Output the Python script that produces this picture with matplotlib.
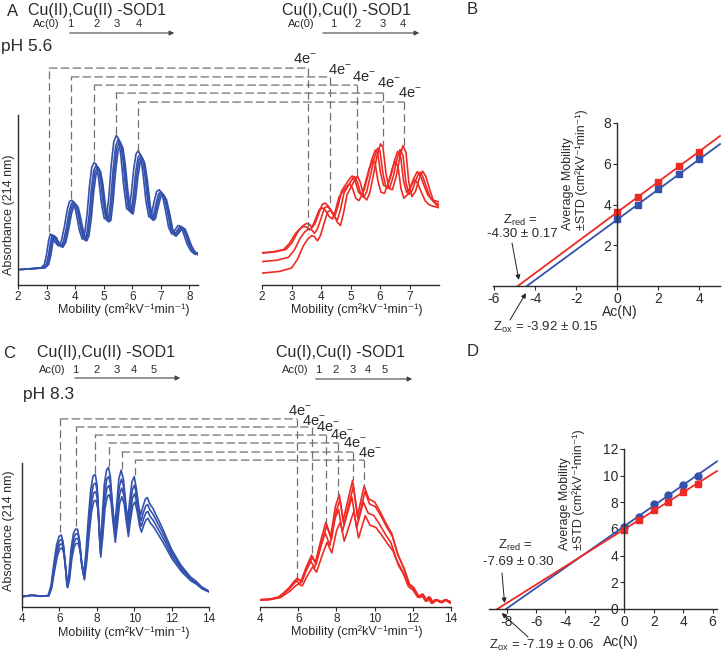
import numpy as np
import matplotlib.pyplot as plt
from matplotlib.patches import ConnectionPatch, FancyArrowPatch

plt.rcParams['font.family'] = ['Liberation Sans', 'DejaVu Sans']
plt.rcParams['mathtext.fontset'] = 'custom'
plt.rcParams['mathtext.rm'] = 'Liberation Sans'
plt.rcParams['mathtext.it'] = 'Liberation Sans:italic'
plt.rcParams['lines.scale_dashes'] = False
plt.rcParams['axes.unicode_minus'] = False

W, H = 722, 656
BLUE = '#3451ab'
RED = '#ee2a24'
DASH = '#707070'
INK = '#2a2a2a'
DASHES = (0, (5.5, 3))

# electropherogram knots, pH 5.6 (mobility, absorbance a.u.)
a_ox_x = [2.0, 2.4, 2.8, 2.92, 3.0, 3.07, 3.13, 3.2, 3.3, 3.42, 3.52, 3.62, 3.72, 3.8, 3.88, 3.96,
          4.05, 4.15, 4.25, 4.33, 4.42, 4.5, 4.58, 4.66, 4.74, 4.82, 4.92, 5.02, 5.1, 5.18, 5.26,
          5.35, 5.44, 5.52, 5.6, 5.7, 5.8, 5.88, 5.96, 6.05, 6.13, 6.21, 6.29, 6.38, 6.48, 6.58,
          6.66, 6.75, 6.85, 6.95, 7.05, 7.15, 7.27, 7.38, 7.48, 7.6, 7.7, 7.8, 7.92, 8.05, 8.2,
          8.3, 8.5]
a_ox_y = [0.09, 0.095, 0.10, 0.12, 0.18, 0.26, 0.30, 0.29, 0.25, 0.23, 0.26, 0.34, 0.44, 0.49, 0.50, 0.48,
          0.41, 0.32, 0.27, 0.30, 0.42, 0.58, 0.69, 0.72, 0.71, 0.63, 0.48, 0.39, 0.40, 0.52, 0.70,
          0.84, 0.88, 0.86, 0.76, 0.58, 0.45, 0.44, 0.53, 0.68, 0.77, 0.79, 0.76, 0.65, 0.49, 0.40,
          0.41, 0.48, 0.55, 0.56, 0.53, 0.45, 0.34, 0.30, 0.32, 0.35, 0.345, 0.30, 0.24, 0.20, 0.18,
          0.19, 0.19]
a_red_x = [1.6, 2.0, 2.6, 3.0, 3.2, 3.4, 3.55, 3.68, 3.78, 3.88, 3.98, 4.1, 4.22, 4.32, 4.42, 4.55,
           4.66, 4.76, 4.88, 5.0, 5.12, 5.24, 5.34, 5.45, 5.55, 5.65, 5.78, 5.9, 6.02, 6.1, 6.2,
           6.3, 6.42, 6.55, 6.68, 6.78, 6.88, 6.98, 7.08, 7.2, 7.32, 7.44, 7.55, 7.67, 7.8, 7.92,
           8.0, 8.3]
a_red_y = [0.07, 0.07, 0.08, 0.10, 0.15, 0.23, 0.27, 0.29, 0.285, 0.26, 0.29, 0.36, 0.43, 0.44, 0.42, 0.37,
           0.35, 0.42, 0.53, 0.57, 0.61, 0.64, 0.60, 0.52, 0.50, 0.54, 0.65, 0.76, 0.83, 0.81, 0.66,
           0.57, 0.56, 0.64, 0.76, 0.82, 0.78, 0.60, 0.52, 0.55, 0.62, 0.67, 0.64, 0.57, 0.50, 0.47,
           0.46, 0.44]

# electropherogram knots, pH 8.3
c_ox_x = [4.0, 4.5, 5.0, 5.4, 5.55, 5.7, 5.85, 5.98, 6.1, 6.2, 6.3, 6.4, 6.5, 6.62, 6.75, 6.85,
          6.97, 7.07, 7.17, 7.3, 7.42, 7.55, 7.68, 7.8, 7.92, 8.02, 8.1, 8.17, 8.28, 8.4, 8.52,
          8.62, 8.72, 8.82, 8.95, 9.07, 9.18, 9.3, 9.42, 9.55, 9.65, 9.76, 9.88, 10.0, 10.12,
          10.25, 10.35, 10.47, 10.6, 10.7, 10.82, 11.0, 11.5, 12.0, 12.5, 13.0, 13.3, 13.6, 14.0]
c_ox_y = [0.072, 0.083, 0.075, 0.08, 0.15, 0.30, 0.43, 0.49, 0.50, 0.45, 0.31, 0.15, 0.22, 0.40, 0.51, 0.54,
          0.54, 0.47, 0.33, 0.22, 0.38, 0.62, 0.82, 0.91, 0.92, 0.84, 0.62, 0.42, 0.60, 0.85, 0.95,
          0.97, 0.91, 0.74, 0.55, 0.72, 0.89, 0.95, 0.89, 0.72, 0.60, 0.74, 0.87, 0.905, 0.82,
          0.69, 0.64, 0.70, 0.75, 0.76, 0.72, 0.685, 0.55, 0.40, 0.29, 0.21, 0.18, 0.14, 0.11]
c_red_x = [4.0, 4.5, 5.0, 5.5, 5.8, 5.95, 6.15, 6.4, 6.7, 6.9, 7.2, 7.45, 7.7, 7.95, 8.15, 8.35, 8.6,
           8.85, 9.1, 9.45, 9.7, 10.0, 10.3, 10.6, 10.9, 11.2, 11.5, 11.8, 12.0, 12.3, 12.5, 12.7,
           12.85, 13.0, 13.2, 13.5, 13.7, 14.0]
c_red_y = [0.05, 0.053, 0.07, 0.13, 0.18, 0.20, 0.18, 0.27, 0.36, 0.31, 0.47, 0.59, 0.49, 0.70, 0.78, 0.60, 0.74,
           0.88, 0.63, 0.84, 0.75, 0.73, 0.66, 0.58, 0.51, 0.37, 0.28, 0.16, 0.14, 0.07, 0.09, 0.04,
           0.07, 0.025, 0.05, 0.03, 0.05, 0.025]

# replicate runs: (mobility shift, scale, offset)
a_ox_runs = [(0.0, 1.0, 0.0), (0.07, 0.97, 0.004), (0.11, 0.95, 0.006), (0.15, 0.93, 0.008)]
a_red_runs = [(0.0, 1.0, 0.0), (-0.1, 0.88, 0.075), (-0.18, 0.80, 0.13), (-0.27, 0.72, 0.136)]
c_ox_runs = [(0.0, 1.0, 0.0), (0.02, 0.93, 0.005), (0.03, 0.86, 0.01), (0.04, 0.79, 0.015)]
c_red_runs = [(0.0, 1.0, 0.0), (0.04, 0.95, 0.003), (-0.04, 0.86, 0.007), (0.06, 0.74, 0.013)]

# peak pairs linked by dashed lines (4e- shift)
a_ox_pk = [3.1, 3.86, 4.67, 5.43, 6.21]
a_ox_pk_h = [0.31, 0.51, 0.73, 0.89, 0.79]
a_red_pk = [3.57, 4.31, 5.22, 6.11, 6.83]
a_red_pk_h = [0.30, 0.46, 0.64, 0.82, 0.82]
c_ox_pk = [6.05, 6.9, 7.9, 8.65, 9.35, 10.05]
c_ox_pk_h = [0.52, 0.56, 0.93, 0.98, 0.96, 0.92]
c_red_pk = [5.92, 6.7, 7.46, 8.1, 8.85, 9.45]
c_red_pk_h = [0.20, 0.36, 0.59, 0.78, 0.88, 0.84]

# average mobility vs acetylation number
b_ac = [0, 1, 2, 3, 4]
b_red = [3.63, 4.36, 5.10, 5.90, 6.60]
b_red_sd = [0.09, 0.10, 0.10, 0.09, 0.08]
b_ox = [3.28, 3.97, 4.74, 5.50, 6.22]
b_ox_sd = [0.07, 0.06, 0.07, 0.05, 0.06]
d_ac = [0, 1, 2, 3, 4, 5]
d_red = [5.94, 6.70, 7.40, 8.05, 8.80, 9.40]
d_red_sd = [0.10, 0.10, 0.09, 0.10, 0.08, 0.09]
d_ox = [6.17, 6.90, 7.90, 8.57, 9.30, 10.00]
d_ox_sd = [0.08, 0.07, 0.08, 0.07, 0.08, 0.07]

fig = plt.figure(figsize=(W / 100, H / 100), dpi=100)


def px_axes(l, r, t, b):
    return fig.add_axes([l / W, 1 - b / H, (r - l) / W, (b - t) / H])


def ftext(x, y, s, **kw):
    fig.text(x / W, 1 - y / H, s, **kw)


def trace_axes(l, r, t, b, xlim, xticks, left):
    ax = px_axes(l, r, t, b)
    ax.set_xlim(*xlim)
    ax.set_ylim(0, 1)
    ax.set_xticks(xticks)
    ax.set_yticks([])
    for s in ['top', 'right']:
        ax.spines[s].set_visible(False)
    ax.spines['left'].set_visible(left)
    for s in ['left', 'bottom']:
        ax.spines[s].set_color(INK)
        ax.spines[s].set_linewidth(1.0)
    ax.tick_params(axis='x', length=3, width=0.8, pad=1.5, labelsize=8.5, colors=INK)
    ax.patch.set_alpha(0)
    return ax


def draw_runs(ax, x, y, runs, color):
    x = np.array(x)
    y = np.array(y)
    for dx, sc, dy in runs:
        ax.plot(x + dx, y * sc + dy, color=color, lw=1.2)


def link(ax_o, ax_r, xo, ho, xr, hr, levels):
    for a, ha, b, hb, lv in zip(xo, ho, xr, hr, levels):
        ax_o.plot([a, a], [ha, lv], color=DASH, lw=0.9, ls=DASHES, clip_on=False)
        ax_r.plot([b, b], [lv, hb], color=DASH, lw=0.9, ls=DASHES, clip_on=False)
        con = ConnectionPatch(xyA=(a, lv), coordsA=ax_o.transData, xyB=(b, lv),
                              coordsB=ax_r.transData, color=DASH, lw=0.9, ls=DASHES)
        fig.add_artist(con)


def header(title, tx, ty, labels, lx, ly, ax0, ax1, ay):
    ftext(tx, ty, title, fontsize=11.5, va='center', ha='left', color=INK)
    for s, x in zip(labels, lx):
        ftext(x, ly, s, fontsize=8, ha='center', va='center', color=INK)
    arr = FancyArrowPatch((ax0 / W, 1 - ay / H), (ax1 / W, 1 - ay / H), transform=fig.transFigure,
                          arrowstyle='-|>', mutation_scale=7, lw=0.8, color='#444444')
    fig.add_artist(arr)


# ---------------- top row (pH 5.6) ----------------
axA = trace_axes(18, 198, 115, 285, (2, 8.3), range(2, 9), True)
draw_runs(axA, a_ox_x, a_ox_y, a_ox_runs, BLUE)
axA2 = trace_axes(262, 439, 115, 285, (2, 8.0), range(2, 8), False)
draw_runs(axA2, a_red_x, a_red_y, a_red_runs, RED)
link(axA, axA2, a_ox_pk, a_ox_pk_h, a_red_pk, a_red_pk_h, [1.276, 1.224, 1.176, 1.129, 1.076])
for x, y in [(3.46, 1.33), (4.65, 1.265), (5.47, 1.224), (6.32, 1.188), (7.0, 1.129)]:
    axA2.text(x, y, '4e$^{-}$', fontsize=10.5, ha='center', va='center', color=INK, clip_on=False)

header('Cu(II),Cu(II) -SOD1', 28, 10, ['Ac(0)', '1', '2', '3', '4'], [46, 70, 97, 117, 139], 24, 67, 177, 33)
header('Cu(I),Cu(I) -SOD1', 282, 10, ['Ac(0)', '1', '2', '3', '4'], [301, 333, 358, 383, 403], 24, 320, 422, 33)
ftext(1, 47, 'pH 5.6', fontsize=12.5, va='center', color=INK)
ftext(7, 11, 'A', fontsize=12, va='center', color=INK)
ftext(124, 310, 'Mobility (cm²kV⁻¹min⁻¹)', fontsize=9, ha='center', va='center', color=INK)
ftext(357, 310, 'Mobility (cm²kV⁻¹min⁻¹)', fontsize=9, ha='center', va='center', color=INK)
ftext(9, 215, 'Absorbance (214 nm)', fontsize=9, ha='center', va='center', rotation=90, color=INK)

# ---------------- bottom row (pH 8.3) ----------------
axC = trace_axes(22, 209, 463, 607, (4, 14), range(4, 15, 2), True)
draw_runs(axC, c_ox_x, c_ox_y, c_ox_runs, BLUE)
axC2 = trace_axes(260, 451, 463, 607, (4, 14), range(4, 15, 2), False)
draw_runs(axC2, c_red_x, c_red_y, c_red_runs, RED)
link(axC, axC2, c_ox_pk, c_ox_pk_h, c_red_pk, c_red_pk_h, [1.306, 1.25, 1.194, 1.139, 1.076, 1.02])
for x, y in [(6.09, 1.36), (6.83, 1.29), (7.56, 1.25), (8.29, 1.194), (8.97, 1.139), (9.76, 1.07)]:
    axC2.text(x, y, '4e$^{-}$', fontsize=10.5, ha='center', va='center', color=INK, clip_on=False)

header('Cu(II),Cu(II) -SOD1', 37, 353, ['Ac(0)', '1', '2', '3', '4', '5'],
       [52, 75, 97, 117, 134, 154], 370, 72, 183, 378)
header('Cu(I),Cu(I) -SOD1', 276, 353, ['Ac(0)', '1', '2', '3', '4', '5'],
       [295, 318, 336, 353, 368, 385], 370, 313, 415, 379)
ftext(23, 395, 'pH 8.3', fontsize=12.5, va='center', color=INK)
ftext(3, 353, 'C', fontsize=12, va='center', color=INK)
ftext(124, 633, 'Mobility (cm²kV⁻¹min⁻¹)', fontsize=9, ha='center', va='center', color=INK)
ftext(357, 632, 'Mobility (cm²kV⁻¹min⁻¹)', fontsize=9, ha='center', va='center', color=INK)
ftext(9, 531, 'Absorbance (214 nm)', fontsize=9, ha='center', va='center', rotation=90, color=INK)


# ---------------- charge ladders ----------------
def ladder(l, r, t, b, xlim, ylim, xticks, yticks, sets):
    ax = px_axes(l, r, t, b)
    ax.set_xlim(*xlim)
    ax.set_ylim(*ylim)
    ax.spines['left'].set_position(('data', 0))
    for s in ['top', 'right']:
        ax.spines[s].set_visible(False)
    for s in ['left', 'bottom']:
        ax.spines[s].set_color(INK)
        ax.spines[s].set_linewidth(1.0)
    ax.set_xticks(xticks)
    ax.set_yticks(yticks)
    ax.tick_params(length=3, width=0.8, pad=1.5, labelsize=10, colors=INK)
    ax.patch.set_alpha(0)
    x0s = []
    for ac, mob, sd, color, mk, ms in sets:
        m, c = np.polyfit(ac, mob, 1)
        x0 = -c / m
        xs = np.array([x0, xlim[1]])
        ax.plot(xs, m * xs + c, color=color, lw=1.3, clip_on=False)
        ax.errorbar(ac, mob, yerr=sd, fmt=mk, ms=ms, color=color, ecolor=color,
                    elinewidth=0.8, capsize=2, capthick=0.8)
        x0s.append(x0)
    return ax, x0s


axB, (b_x0r, b_x0o) = ladder(493, 720, 123, 286, (-6.05, 5.0), (0, 8), [-6, -4, -2, 0, 2, 4], [2, 4, 6, 8],
                             [(b_ac, b_red, b_red_sd, RED, 's', 4.5), (b_ac, b_ox, b_ox_sd, BLUE, 's', 4.5)])
ftext(575, 230, 'Average Mobility\n±STD (cm²kV⁻¹min⁻¹)', fontsize=9, rotation=90,
      ha='center', va='bottom', multialignment='left', color=INK)
ftext(620, 312, 'Ac(N)', fontsize=10, ha='center', va='center', color=INK)
ftext(467, 10, 'B', fontsize=12, va='center', color=INK)
ftext(520, 220, r'Z$_{\mathregular{red}}$ =', fontsize=9.5, ha='center', va='center', color=INK)
ftext(522, 234, '-4.30 ± 0.17', fontsize=9.5, ha='center', va='center', color=INK)
ftext(493, 327, r'Z$_{\mathregular{ox}}$ = -3.92 ± 0.15', fontsize=9.5, ha='left', va='center', color=INK)
aprops = dict(arrowstyle='-|>', mutation_scale=7, lw=0.7, color='#222222', shrinkA=0, shrinkB=0)
axB.annotate('', xy=(b_x0r + 0.05, 0.3), xycoords='data', xytext=(512, H - 243),
             textcoords='figure pixels', arrowprops=aprops, annotation_clip=False)
axB.annotate('', xy=(b_x0o - 0.05, -0.35), xycoords='data', xytext=(510, H - 320),
             textcoords='figure pixels', arrowprops=aprops, annotation_clip=False)

axD, (d_x0r, d_x0o) = ladder(489, 717, 449, 609, (-9.2, 6.3), (0, 12), [-8, -6, -4, -2, 0, 2, 4, 6],
                             [0, 2, 4, 6, 8, 10, 12],
                             [(d_ac, d_ox, d_ox_sd, BLUE, 'o', 5), (d_ac, d_red, d_red_sd, RED, 's', 4)])
ftext(572, 550, 'Average Mobility\n±STD (cm²kV⁻¹min⁻¹)', fontsize=9, rotation=90,
      ha='center', va='bottom', multialignment='left', color=INK)
ftext(621, 642, 'Ac(N)', fontsize=10, ha='center', va='center', color=INK)
ftext(467, 352, 'D', fontsize=12, va='center', color=INK)
ftext(515, 545, r'Z$_{\mathregular{red}}$ =', fontsize=9.5, ha='center', va='center', color=INK)
ftext(518, 562, '-7.69 ± 0.30', fontsize=9.5, ha='center', va='center', color=INK)
ftext(489, 645, r'Z$_{\mathregular{ox}}$ = -7.19 ± 0.06', fontsize=9.5, ha='left', va='center', color=INK)
axD.annotate('', xy=(d_x0r - 0.1, 0.45), xycoords='data', xytext=(502, H - 573),
             textcoords='figure pixels', arrowprops=aprops, annotation_clip=False)
axD.annotate('', xy=(d_x0o + 0.3, -0.3), xycoords='data', xytext=(528, H - 637),
             textcoords='figure pixels', arrowprops=aprops, annotation_clip=False)

fig.savefig('out.png', dpi=100)
